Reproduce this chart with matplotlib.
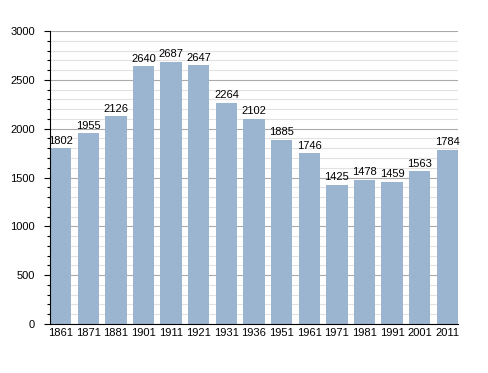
import matplotlib
matplotlib.use('Agg')
import matplotlib.pyplot as plt
from matplotlib.ticker import MultipleLocator

plt.rcParams['font.family'] = ['Liberation Sans', 'DejaVu Sans']

years = ['1861', '1871', '1881', '1901', '1911', '1921', '1931', '1936',
         '1951', '1961', '1971', '1981', '1991', '2001', '2011']
population = [1802, 1955, 2126, 2640, 2687, 2647, 2264, 2102,
              1885, 1746, 1425, 1478, 1459, 1563, 1784]

bar_color = '#9bb4cf'
bar_w = 0.77

fig = plt.figure(figsize=(4.88, 3.73), dpi=100)
ax = fig.add_axes([50 / 488, 49 / 373, 408 / 488, 293 / 373])

x = list(range(len(years)))
ax.bar(x, population, width=bar_w, color=bar_color, zorder=2)
for xi, v in zip(x, population):
    ax.text(xi, v + 25, str(v), ha='center', va='bottom', fontsize=8, zorder=3)

ax.set_xlim(-bar_w / 2, len(years) - 1 + bar_w / 2)
ax.set_ylim(0, 3000)
ax.yaxis.set_major_locator(MultipleLocator(500))
ax.yaxis.set_minor_locator(MultipleLocator(100))
ax.grid(axis='y', which='major', color='#aaaaaa', linewidth=0.8, zorder=0)
ax.grid(axis='y', which='minor', color='#e2e2e2', linewidth=0.8, zorder=0)
ax.set_axisbelow(True)

ax.set_xticks(x)
ax.set_xticklabels(years)
ax.tick_params(axis='x', length=0, labelsize=8, pad=3)
ax.tick_params(axis='y', which='major', length=4, width=0.8, labelsize=8, pad=7)
ax.tick_params(axis='y', which='minor', length=2, width=0.8)

ax.spines['top'].set_visible(False)
ax.spines['right'].set_visible(False)

fig.savefig('out.png', dpi=100)
